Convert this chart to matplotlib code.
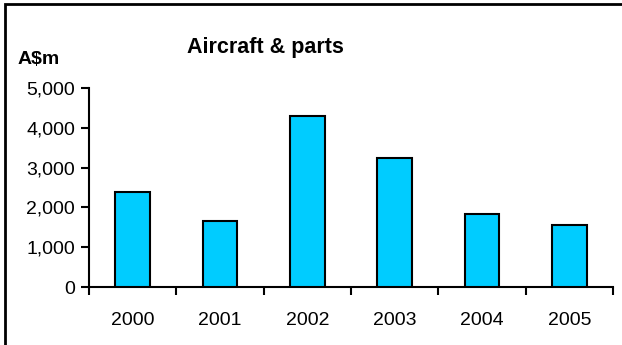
import matplotlib
matplotlib.use('Agg')
from matplotlib import pyplot as plt
from matplotlib.patches import Rectangle
from matplotlib.ticker import FuncFormatter
import numpy as np

plt.rcParams['font.family'] = ['Liberation Sans', 'DejaVu Sans']

years = ['2000', '2001', '2002', '2003', '2004', '2005']
values = [2380, 1660, 4290, 3250, 1830, 1560]

BAR_COLOR = '#00CCFF'

fig = plt.figure(figsize=(6.22, 3.45), dpi=100)
ax = fig.add_axes([0.1431, 0.168, 0.8424, 0.577])

x = np.arange(len(years))
ax.bar(x, values, width=0.4, color=BAR_COLOR, edgecolor='black', linewidth=1.5, zorder=3)

ax.set_xlim(-0.5, len(years) - 0.5)
ax.set_ylim(0, 5000)
ax.set_yticks(range(0, 5001, 1000))
ax.yaxis.set_major_formatter(FuncFormatter(lambda v, _: f"{int(v):,}"))

# category ticks sit between the bars, labels centred under them
ax.set_xticks(np.arange(-0.5, len(years), 1.0))
ax.set_xticklabels([])
ax.set_xticks(x, minor=True)
ax.set_xticklabels(years, minor=True)
ax.tick_params(axis='x', which='minor', length=0, pad=18, labelsize=14)
ax.tick_params(axis='x', which='major', length=6, width=1.5, direction='out')
ax.tick_params(axis='y', length=6, width=1.5, direction='out', pad=4, labelsize=14)

for side in ['top', 'right']:
    ax.spines[side].set_visible(False)
for side in ['left', 'bottom']:
    ax.spines[side].set_linewidth(1.5)

fig.text(265 / 622, 1 - 47 / 345, 'Aircraft & parts', ha='center', va='center',
         fontsize=15.5, fontweight='bold')
fig.text(18 / 622, 1 - 60 / 345, 'A$m', ha='left', va='center',
         fontsize=14, fontweight='bold')

# outer frame: only its top and left edges fall inside the picture
fig.patches.append(Rectangle((4.5 / 622, -0.05), 1.1, 1.05 - 3.5 / 345,
                             transform=fig.transFigure, fill=False,
                             edgecolor='black', linewidth=2))

plt.savefig('out.png', dpi=100)
